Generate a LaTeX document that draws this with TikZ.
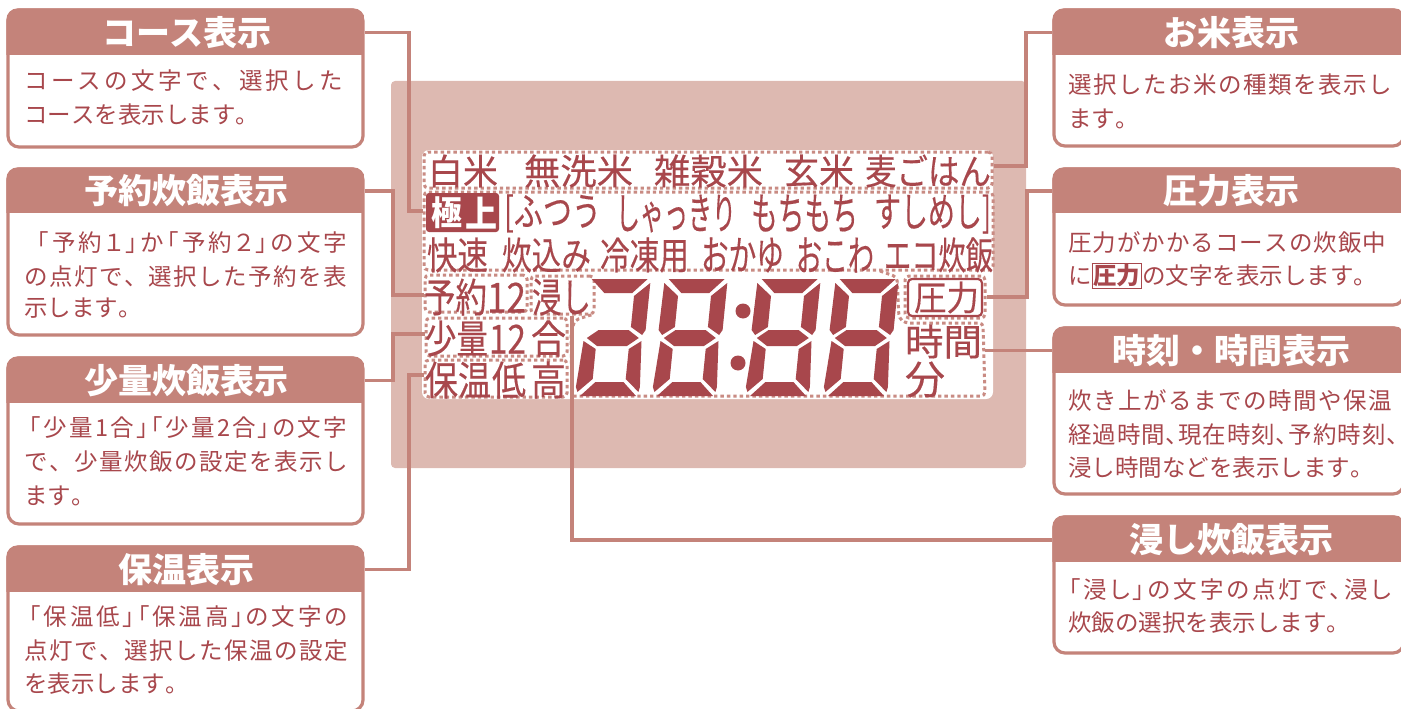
\documentclass[tikz,border=0pt]{standalone}
\usepackage{fontspec}
\usetikzlibrary{fit,calc}
\setmainfont{Noto Sans CJK JP}
\newfontfamily\lcdfont[FakeBold=0.35]{Noto Sans CJK JP}
\definecolor{hdr}{HTML}{C4837A}
\definecolor{ink}{HTML}{A8474C}
\definecolor{panel}{HTML}{DDB9B1}
\definecolor{dots}{HTML}{C98B83}
\tikzset{
  infoframe/.style={draw=hdr,line width=3.2pt,rounded corners=11pt,fill=white,inner sep=0pt},
  infotitle/.style={text=white,font=\bfseries\fontsize{34}{34}\selectfont,inner sep=0pt},
  infoline/.style={text=ink,font=\fontsize{23.5}{23.5}\selectfont,inner sep=0pt,anchor=west},
  conn/.style={draw=hdr,line width=3.2pt},
  dotbox/.style={draw=dots,line width=3pt,dash pattern=on 3.4pt off 3pt,inner sep=0pt,rounded corners=4pt},
  lcdtext/.style={text=ink,inner sep=0pt,font=\lcdfont\fontsize{36}{36}\selectfont}
}
\makeatletter
\newcommand{\spreadtxt}[1]{\let\sp@first\relax\@tfor\sp@x:=#1\do{\ifx\sp@first\relax\let\sp@first\@empty\else\hfill\fi\sp@x}}
\makeatother
% x1 y1 x2 y2 header-bottom name title-name centre-x, then title
\newcommand{\infobox}[9]{%
  \node[infoframe,fit={(#1,#2)(#3,#4)}] (#6) {};
  \begin{scope}
    \clip[rounded corners=11pt] (#1-1.6,#2-1.6) rectangle (#3+1.6,#4+1.6);
    \fill[hdr] (#1-1.6,#2-1.6) rectangle (#3+1.6,#5);
  \end{scope}
  \node[infotitle] (#7) at (#8,{(#2+#5)/2}) {#9};
}
\newcommand{\lcd}[6]{% name x1 x2 y1 y2 text
  \node[lcdtext] (#1) at ({(#2+#3)/2},{(#4+#5)/2}) {\resizebox*{\dimexpr#3pt-#2pt+2pt\relax}{\dimexpr#5pt-#4pt+1pt\relax}{#6}};
}
\newcommand{\txt}[5]{% name x1 x2 y text
  \node[infoline] (#1) at (#2,#4) {\hbox to \dimexpr#3pt-#2pt\relax{\spreadtxt{#5}}};
}
\newcommand{\txtp}[5]{% same, with proportional kana and brackets
  \node[infoline] (#1) at (#2,#4) {\addfontfeature{RawFeature=+palt}\hbox to \dimexpr#3pt-#2pt\relax{\spreadtxt{#5}}};
}
\newcommand{\seven}[3]{% name x0 extra segment
  \begin{scope}[shift={(#2,396)},x=1pt,y={(0.1pt,1pt)}]
    \fill[ink] (4,117)--(60,117)--(46,103)--(18,103)--cycle;
    \fill[ink] (5,58)--(16,66)--(46,66)--(57,58)--(46,50)--(16,50)--cycle;
    \fill[ink] (4,0)--(60,0)--(46,14)--(18,14)--cycle;
    \fill[ink] (63,113)--(48,100)--(48,69)--(60,61)--(63,66)--cycle;
    \fill[ink] (60,55)--(48,47)--(48,17)--(62,4)--(63,9)--cycle;
    \fill[ink] (2,55)--(15,47)--(15,17)--(1,4)--(-1,9)--cycle;
    #3
  \end{scope}
  \coordinate (#1) at (#2,396);
}
\newcommand{\ulseg}{\fill[ink] (0,113)--(15,100)--(15,69)--(3,61)--(-1,66)--cycle;}
\begin{document}
\begin{tikzpicture}[x=1pt,y=-1pt]
\useasboundingbox (0,0) rectangle (1401,709);
% device panel
\fill[panel,rounded corners=4pt] (391,81) rectangle (1026,468);
\fill[white,rounded corners=7pt] (422,150) rectangle (993,399);
% dotted regions
\node[dotbox,fit={(424,152)(992,188)}] (rKome) {};
\node[dotbox,fit={(424,192)(993,270)}] (rMain) {};
\node[dotbox,fit={(425,275)(527,312)}] (rYoyaku) {};
\node[dotbox,fit={(531,276)(594,314)}] (rHitashi) {};
\node[dotbox,fit={(426,318)(567,356)}] (rShoryo) {};
\node[dotbox,fit={(425,360)(567,397)}] (rHoon) {};
\node[dotbox,fit={(905,276)(985,318)}] (rAtsu) {};
\node[inner sep=0pt,fit={(905,323)(985,396)}] (rJikan) {};
\draw[dotbox] (572,396) -- (571,332) -- (575,320) -- (594,314);
\draw[dotbox] (880,271) -- (897,277) -- (899,318) -- (905,323) -- (983,323) -- (985,396) -- (572,396);
\draw[ink,line width=2.2pt,rounded corners=4pt] (908,279) rectangle (982,316);
% LCD text
\lcd{a1}{429}{497}{155}{187}{白米}
\lcd{a2}{525}{632}{155}{187}{無洗米}
\lcd{a3}{655}{762}{155}{187}{雑穀米}
\lcd{a4}{785}{853}{155}{187}{玄米}
\lcd{a5}{866}{990}{155}{187}{麦ごはん}
\fill[ink,rounded corners=3pt] (426,193) rectangle (499,232);
\node[text=white,inner sep=0pt,font=\bfseries\fontsize{29}{29}\selectfont] (b0a) at (447,213) {\resizebox*{31pt}{32pt}{極}};
\node[text=white,inner sep=0pt,font=\bfseries\fontsize{29}{29}\selectfont] (b0b) at (481,213) {\resizebox*{32pt}{32pt}{上}};
\lcd{b1}{505}{600}{195}{232}{[ふつう}
\lcd{b2}{617}{735}{195}{232}{しゃっきり}
\lcd{b3}{752}{857}{195}{232}{もちもち}
\lcd{b4}{875}{990}{195}{233}{すしめし]}
\lcd{c1}{428}{487}{238}{272}{快速}
\lcd{c2}{503}{590}{238}{272}{炊込み}
\lcd{c3}{601}{688}{238}{272}{冷凍用}
\lcd{c4}{702}{783}{238}{272}{おかゆ}
\lcd{c5}{797}{873}{238}{272}{おこわ}
\lcd{c6}{885}{992}{238}{272}{エコ炊飯}
\lcd{d1}{425}{486}{279}{315}{予約}
\lcd{d2}{488}{525}{283}{312}{12}
\lcd{d3}{533}{590}{279}{315}{浸し}
\lcd{e1}{426}{487}{321}{356}{少量}
\lcd{e2}{490}{525}{325}{353}{12}
\lcd{e3}{532}{565}{321}{356}{合}
\lcd{f1}{426}{490}{362}{398}{保温}
\lcd{f2}{493}{525}{362}{398}{低}
\lcd{f3}{532}{565}{362}{398}{高}
\lcd{g1}{915}{978}{282}{313}{圧力}
\lcd{g2}{906}{981}{325}{358}{時間}
\lcd{g3}{906}{944}{362}{397}{分}
% seven-segment digits
\seven{dg1}{576}{}
\seven{dg2}{653}{\ulseg}
\seven{dg3}{746}{\ulseg}
\seven{dg4}{824}{\ulseg}
\fill[ink] (743,311) circle (7.5pt) (738,363) circle (7.5pt);
% information boxes
\infobox{8}{10}{363}{147}{55}{bCourse}{tCourse}{187}{コース表示}
\infobox{8}{169}{363}{335}{213}{bYoyaku}{tYoyaku}{186}{予約炊飯表示}
\infobox{8}{358}{363}{524}{403}{bShoryo}{tShoryo}{186}{少量炊飯表示}
\infobox{8}{547}{363}{711}{592}{bHoon}{tHoon}{186}{保温表示}
\infobox{1054}{10}{1404}{146}{55}{bKome}{tKome}{1231}{お米表示}
\infobox{1054}{169}{1404}{305}{213}{bAtsu}{tAtsu}{1231}{圧力表示}
\infobox{1054}{328}{1404}{494}{373}{bJikan}{tJikan}{1231}{時刻・時間表示}
\infobox{1054}{517}{1404}{653}{562}{bHita}{tHita}{1231}{浸し炊飯表示}
% body text
\txt{l1}{24}{343}{81}{コースの文字で、選択した}
\txt{l2}{24}{258}{115}{コースを表示します。}
\txtp{l3}{37}{347}{243}{「予約１」か「予約２」の文字}
\txt{l4}{24}{347}{277}{の点灯で、選択した予約を表}
\txt{l5}{24}{125}{308}{示します。}
\txtp{l6}{29}{347}{428}{「少量1合」「少量2合」の文字}
\txt{l7}{24}{348}{462}{で、少量炊飯の設定を表示し}
\txt{l8}{24}{75}{496}{ます。}
\txtp{l9}{29}{347}{617}{「保温低」「保温高」の文字の}
\txt{l10}{24}{348}{651}{点灯で、選択した保温の設定}
\txt{l11}{24}{175}{684}{を表示します。}
\txt{r1}{1068}{1392}{85}{選択したお米の種類を表示し}
\txt{r2}{1068}{1130}{119}{ます。}
\txt{r3}{1068}{1386}{243}{圧力がかかるコースの炊飯中}
\txt{r4}{1068}{1372}{276}{に{\setlength\fboxsep{0.5pt}\setlength\fboxrule{1.2pt}\fbox{\bfseries 圧力}}の文字を表示します。}
\txt{r5}{1068}{1392}{401}{炊き上がるまでの時間や保温}
\txtp{r6}{1068}{1398}{435}{経過時間、現在時刻、予約時刻、}
\txt{r7}{1068}{1360}{468}{浸し時間などを表示します。}
\txtp{r8}{1069}{1391}{590}{「浸し」の文字の点灯で、浸し}
\txt{r9}{1068}{1340}{623}{炊飯の選択を表示します。}
% connectors
\coordinate (kCourse) at (409,211);
\coordinate (kYoyaku) at (393,295);
\coordinate (kShoryo) at (393,334);
\coordinate (kHoon) at (409,375);
\coordinate (kKome) at (1026,166);
\coordinate (kAtsu) at (1027,297);
\coordinate (kHita) at (572,540);
\draw[conn] (bCourse.east |- tCourse) -| (kCourse) -- (rMain.west |- kCourse);
\draw[conn] (bYoyaku.east |- tYoyaku) -| (kYoyaku) -- (rYoyaku.west |- kYoyaku);
\draw[conn] (bShoryo.east |- tShoryo) -| (kShoryo) -- (rShoryo.west |- kShoryo);
\draw[conn] (bHoon.east |- tHoon) -| (kHoon) -- (rHoon.west |- kHoon);
\draw[conn] (bKome.west |- tKome) -| (kKome) -- (rKome.east |- kKome);
\draw[conn] (bAtsu.west |- tAtsu) -| (kAtsu) -- (rAtsu.east |- kAtsu);
\draw[conn] (bJikan.west |- tJikan) -- (rJikan.east |- tJikan);
\draw[conn] (bHita.west |- kHita) -- (kHita) -- (rHitashi.south -| kHita);
\end{tikzpicture}
\end{document}
